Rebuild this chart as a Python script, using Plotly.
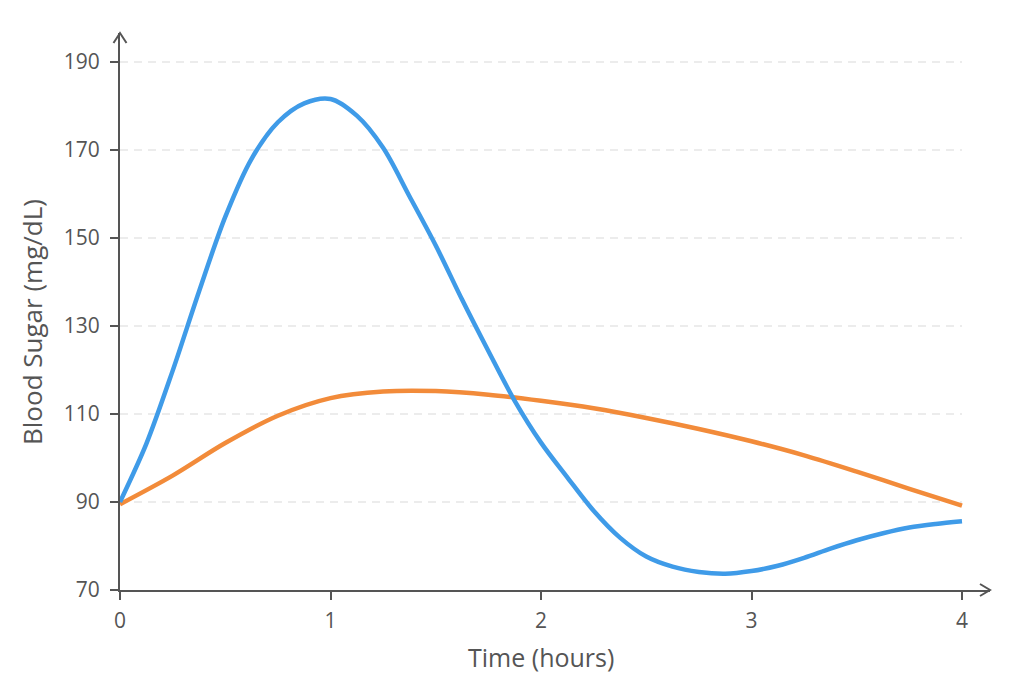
import plotly.graph_objects as go

# Data (hours, mg/dL)
blue_x = [0, 0.125, 0.25, 0.375, 0.5, 0.625, 0.75, 0.875, 1.0, 1.125, 1.25, 1.375, 1.5, 1.625,
          1.75, 1.875, 2.0, 2.125, 2.25, 2.375, 2.5, 2.625, 2.75, 2.875, 3.0, 3.125, 3.25, 3.375,
          3.5, 3.625, 3.75, 3.875, 4.0]
blue_y = [90, 103.2, 119.8, 137.8, 154.8, 168.0, 176.3, 180.6, 181.6, 177.8, 170.5, 159.5, 148.3, 136,
          124.3, 113, 103.5, 95.6, 88, 81.9, 77.6, 75.3, 74.1, 73.7, 74.3, 75.5, 77.3, 79.4,
          81.3, 82.9, 84.2, 85.0, 85.6]

orange_x = [0, 0.25, 0.5, 0.75, 1.0, 1.25, 1.5, 1.75, 2.0, 2.25, 2.5, 2.75, 3.0, 3.25, 3.5, 3.75, 4.0]
orange_y = [89.5, 96.0, 103.4, 109.6, 113.6, 115.1, 115.2, 114.4, 113.0, 111.3, 109.1, 106.6, 103.8, 100.6, 96.9, 93.0, 89.2]

x_ticks = [0, 1, 2, 3, 4]
y_ticks = [70, 90, 110, 130, 150, 170, 190]

BLUE = "#3f9be8"
ORANGE = "#f28b3a"
AXIS = "#555555"
TEXT = "#555555"
FONT = "Open Sans"

W, H = 1024, 683
L, R, T, B = 120, 34, 33, 93
PW, PH = W - L - R, H - T - B
px_per_x = 210.5
px_per_y = 4.4
x_max = PW / px_per_x
y_min = 70
y_max = y_min + PH / px_per_y

fig = go.Figure()
fig.add_trace(go.Scatter(x=orange_x, y=orange_y, mode="lines",
                         line=dict(color=ORANGE, width=4.5, shape="spline", smoothing=0.9),
                         showlegend=False, hoverinfo="skip"))
fig.add_trace(go.Scatter(x=blue_x, y=blue_y, mode="lines",
                         line=dict(color=BLUE, width=4.5, shape="spline", smoothing=0.9),
                         showlegend=False, hoverinfo="skip"))

shapes = []
for v in y_ticks[1:]:
    shapes.append(dict(type="line", xref="x", yref="y", x0=0, x1=x_ticks[-1], y0=v, y1=v,
                       line=dict(color="#d9d9d9", width=1, dash="8px,6px"), layer="below"))

# arrow heads (open chevrons) at the axis ends, in paper coordinates
ax_dx = 10 / PW
ax_dy = 6 / PH
shapes.append(dict(type="path", xref="paper", yref="paper",
                   path=f"M {1-ax_dx},{ax_dy} L 1,0 L {1-ax_dx},{-ax_dy}",
                   line=dict(color=AXIS, width=2)))
ay_dx = 6.5 / PW
ay_dy = 10 / PH
shapes.append(dict(type="path", xref="paper", yref="paper",
                   path=f"M {-ay_dx},{1-ay_dy} L 0,1 L {ay_dx},{1-ay_dy}",
                   line=dict(color=AXIS, width=2)))

fig.update_layout(
    width=W, height=H,
    margin=dict(l=L, r=R, t=T, b=B),
    paper_bgcolor="white", plot_bgcolor="white",
    font=dict(family=FONT, color=TEXT),
    shapes=shapes,
    xaxis=dict(range=[0, x_max], tickvals=x_ticks, ticktext=[str(v) for v in x_ticks],
               showgrid=False, zeroline=False, showline=True, linecolor=AXIS, linewidth=2,
               ticks="outside", ticklen=8, tickwidth=1.5, tickcolor=AXIS,
               tickfont=dict(size=21, color=TEXT, family=FONT), ticklabelstandoff=3),
    yaxis=dict(range=[y_min, y_max], tickvals=y_ticks, ticktext=[str(v) for v in y_ticks],
               showgrid=False, zeroline=False, showline=True, linecolor=AXIS, linewidth=2,
               ticks="outside", ticklen=8, tickwidth=1.5, tickcolor=AXIS,
               tickfont=dict(size=21, color=TEXT, family=FONT), ticklabelstandoff=6),
    annotations=[
        dict(text="Time (hours)", xref="paper", yref="paper",
             x=(541 - L) / PW, y=(H - B - 657) / PH,
             xanchor="center", yanchor="middle", showarrow=False,
             font=dict(size=25, color=TEXT, family=FONT)),
        dict(text="Blood Sugar (mg/dL)", xref="paper", yref="paper",
             x=(32 - L) / PW, y=(H - B - 322) / PH,
             xanchor="center", yanchor="middle", textangle=-90, showarrow=False,
             font=dict(size=26, color=TEXT, family=FONT)),
    ],
)

fig.write_html("out.html")
